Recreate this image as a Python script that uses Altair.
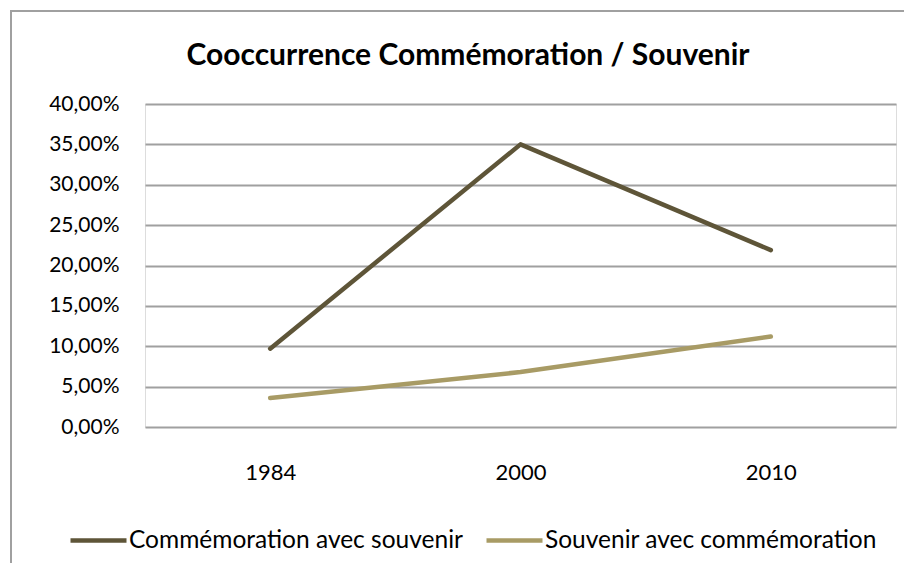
import altair as alt
import pandas as pd

years = ["1984", "2000", "2010"]
series_names = ["Commémoration avec souvenir", "Souvenir avec commémoration"]
commemoration = [0.097, 0.350, 0.219]
souvenir = [0.036, 0.068, 0.112]
colors = ["#5E5538", "#A89B65"]
title_text = "Cooccurrence Commémoration / Souvenir"

rows = []
for y, a, b in zip(years, commemoration, souvenir):
    rows.append({"year": y, "serie": series_names[0], "value": a})
    rows.append({"year": y, "serie": series_names[1], "value": b})
df = pd.DataFrame(rows)

FONT = "Lato"

lines = alt.Chart(df).mark_line(strokeWidth=4.5, strokeCap="round", strokeJoin="round").encode(
    x=alt.X("year:O", sort=years, title=None,
            axis=alt.Axis(labelAngle=0, ticks=False, domain=False, labelPadding=35,
                          labelFontSize=22, labelFont=FONT, labelColor="#000000")),
    y=alt.Y("value:Q", title=None,
            scale=alt.Scale(domain=[0, 0.40], nice=False),
            axis=alt.Axis(values=[i * 0.05 for i in range(9)], ticks=False, domain=False,
                          labelPadding=26, labelFontSize=21, labelFont=FONT, labelColor="#000000",
                          labelExpr="replace(format(datum.value, '.2%'), '.', ',')",
                          grid=True, gridColor="#A0A0A0", gridWidth=2)),
    color=alt.Color("serie:N", sort=series_names,
                    scale=alt.Scale(domain=series_names, range=colors),
                    legend=alt.Legend(title=None, orient="none", direction="horizontal",
                                      legendX=-77, legendY=406,
                                      symbolType="stroke", symbolSize=3136, symbolStrokeWidth=4.5,
                                      labelFontSize=24.5, labelFont=FONT, labelColor="#000000",
                                      labelOffset=0, columnPadding=14, symbolOffset=0,
                                      labelLimit=500)),
)

border_df = pd.DataFrame({"k": [0]})
border = alt.Chart(border_df).mark_rect(fill="transparent", stroke="#A0A0A0", strokeWidth=2).encode(
    x=alt.value(-134), x2=alt.value(800), y=alt.value(-93), y2=alt.value(500)
)

title_df = pd.DataFrame({"t": [title_text]})
title = alt.Chart(title_df).mark_text(fontSize=30, fontWeight="bold", font=FONT, color="#000000",
                                      align="center", baseline="alphabetic").encode(
    text="t:N", x=alt.value(323), y=alt.value(-39)
)

chart = alt.layer(border, lines, title).properties(
    width=751, height=323,
    autosize=alt.AutoSizeParams(type="none"),
    padding={"left": 137, "top": 96, "right": 8, "bottom": 136},
).configure_view(stroke=None).configure(background="#FFFFFF")

chart.save("out.html", embed_options={"renderer": "svg", "actions": False})
